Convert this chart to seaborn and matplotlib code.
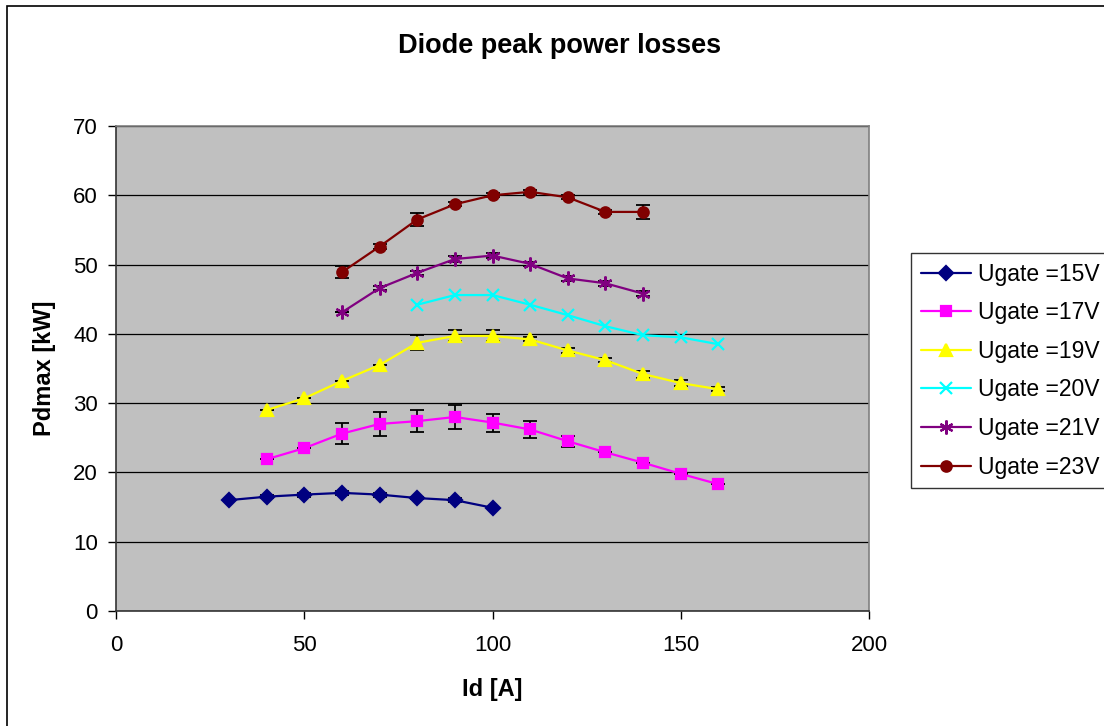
import numpy as np
import pandas as pd
import matplotlib
matplotlib.use("Agg")
import matplotlib.pyplot as plt
import seaborn as sns
from matplotlib.patches import Rectangle

# %% DATA
id_15 = [30, 40, 50, 60, 70, 80, 90, 100]
pd_15 = [16.0, 16.5, 16.8, 17.05, 16.8, 16.3, 16.0, 14.9]
err_15 = [0.0, 0.2, 0.3, 0.3, 0.3, 0.2, 0.3, 0.0]

id_17 = [40, 50, 60, 70, 80, 90, 100, 110, 120, 130, 140, 150, 160]
pd_17 = [21.9, 23.5, 25.6, 27.0, 27.4, 28.0, 27.2, 26.2, 24.5, 22.9, 21.4, 19.8, 18.3]
err_17 = [0.0, 0.0, 1.55, 1.7, 1.6, 1.7, 1.3, 1.2, 0.8, 0.0, 0.0, 0.0, 0.0]

id_19 = [40, 50, 60, 70, 80, 90, 100, 110, 120, 130, 140, 150, 160]
pd_19 = [29.0, 30.7, 33.2, 35.5, 38.7, 39.7, 39.7, 39.2, 37.6, 36.2, 34.2, 32.9, 32.0]
err_19 = [0.0, 0.0, 0.0, 0.0, 1.1, 0.8, 0.8, 0.3, 0.3, 0.3, 0.5, 0.4, 0.3]

id_20 = [80, 90, 100, 110, 120, 130, 140, 150, 160]
pd_20 = [44.2, 45.6, 45.6, 44.2, 42.7, 41.1, 39.8, 39.5, 38.5]

id_21 = [60, 70, 80, 90, 100, 110, 120, 130, 140]
pd_21 = [43.1, 46.6, 48.8, 50.8, 51.3, 50.1, 48.0, 47.3, 45.8]
err_21 = [0.0, 0.3, 0.3, 0.5, 0.3, 0.3, 0.4, 0.4, 0.4]

id_23 = [60, 70, 80, 90, 100, 110, 120, 130, 140]
pd_23 = [48.9, 52.6, 56.5, 58.7, 60.0, 60.5, 59.7, 57.6, 57.6]
err_23 = [0.9, 0.3, 0.9, 0.3, 0.3, 0.3, 0.3, 0.3, 1.0]

labels = ["Ugate =15V", "Ugate =17V", "Ugate =19V", "Ugate =20V", "Ugate =21V", "Ugate =23V"]

# %% STYLE
sns.set_style("white")
plt.rcParams["font.family"] = ["Liberation Sans", "DejaVu Sans"]
plt.rcParams["text.color"] = "black"
plt.rcParams["axes.labelcolor"] = "black"

series = [
    (id_15, pd_15, err_15, "#000080", "D", 7),
    (id_17, pd_17, err_17, "#FF00FF", "s", 7),
    (id_19, pd_19, err_19, "#FFFF00", "^", 8.5),
    (id_20, pd_20, None, "#00FFFF", "x", 9),
    (id_21, pd_21, err_21, "#800080", (6, 2, 0), 10),
    (id_23, pd_23, err_23, "#800000", "o", 7.5),
]

fig = plt.figure(figsize=(11.04, 7.26), dpi=100)
ax = fig.add_axes([116 / 1104, 1 - 611 / 726, (869 - 116) / 1104, (611 - 126) / 726])
ax.set_facecolor("#C0C0C0")

for (xs, ys, errs, col, mk, ms), lab in zip(series, labels):
    if errs is not None:
        ax.errorbar(xs, ys, yerr=errs, fmt="none", ecolor="black",
                    elinewidth=1.3, capsize=5, capthick=1.3, zorder=2)
    df = pd.DataFrame({"x": xs, "y": ys})
    sns.lineplot(data=df, x="x", y="y", ax=ax, color=col, marker=mk,
                 markersize=ms, markeredgecolor=col, markeredgewidth=1.6,
                 linewidth=1.6, label=lab, zorder=3)

ax.set_xlim(0, 200)
ax.set_ylim(0, 70)
ax.set_xticks([0, 50, 100, 150, 200])
ax.set_yticks(range(0, 71, 10))
ax.yaxis.grid(True, color="black", linewidth=0.9)
ax.set_axisbelow(True)
ax.tick_params(axis="both", direction="out", length=6, width=1, labelsize=16,
               colors="black", pad=7, left=True, bottom=True)
ax.tick_params(axis="x", pad=11)
for side in ["left", "bottom"]:
    ax.spines[side].set_color("#333333")
    ax.spines[side].set_linewidth(1.2)
for side in ["top", "right"]:
    ax.spines[side].set_color("#808080")
    ax.spines[side].set_linewidth(1.2)

ax.set_xlabel("Id [A]", fontsize=17, fontweight="bold", labelpad=16)
ax.set_ylabel("Pdmax [kW]", fontsize=17, fontweight="bold", labelpad=12)
fig.text(560 / 1104, 1 - 46 / 726, "Diode peak power losses", fontsize=19.5,
         fontweight="bold", ha="center", va="center")

leg = ax.legend(loc="upper left", bbox_to_anchor=(911 / 1104, 1 - 253 / 726),
                bbox_transform=fig.transFigure, fontsize=16.5, frameon=True,
                fancybox=False, edgecolor="black", handlelength=2.2,
                labelspacing=0.68, borderpad=0.42, handletextpad=0.3,
                borderaxespad=0)
leg.get_frame().set_linewidth(1.0)

# outer chart border
fig.patches.append(Rectangle((7 / 1104, -0.1), 2, 1.1 - 6 / 726, transform=fig.transFigure,
                             fill=False, edgecolor="black", linewidth=1.2, zorder=0))

fig.savefig("out.png", dpi=100)
